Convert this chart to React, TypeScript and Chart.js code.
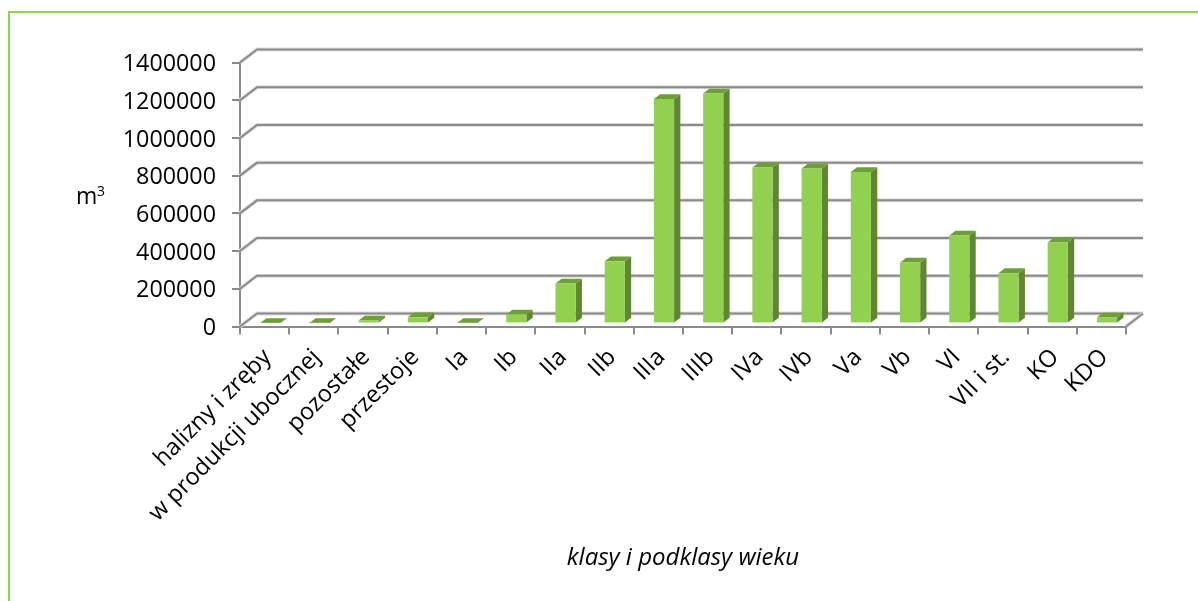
import React, { useEffect, useRef } from "react";
import { Chart, registerables } from "chart.js";

Chart.register(...registerables);

const categories = [
  "halizny i zręby", "w produkcji ubocznej", "pozostałe", "przestoje", "Ia", "Ib",
  "IIa", "IIb", "IIIa", "IIIb", "IVa", "IVb", "Va", "Vb", "VI", "VII i st.", "KO", "KDO",
];
const volumes = [
  3000, 2000, 16000, 33000, 2000, 48000, 212000, 330000, 1190000, 1220000,
  827000, 822000, 803000, 323000, 467000, 267000, 430000, 32000,
];
const yMax = 1400000;
const yStep = 200000;
const yTitleBase = "m";
const yTitleSup = "3";
const xTitle = "klasy i podklasy wieku";

const FONT = "'Open Sans', 'Noto Sans', sans-serif";
const GREY = "#8a8a8a";
const HALO = "#dcdcdc";
const FRONT = "#92d050";
const SIDE = "#5f8732";
const TOP = "#6d9e37";
const WALL_DX = 17;
const WALL_DY = -13;
const BAR_DX = 5.6;
const BAR_DY = -3;
const DEPTH_DX = 6.3;
const DEPTH_DY = -4.8;

function stroke(ctx: CanvasRenderingContext2D, pts: number[][]) {
  for (const [w, c] of [[3.8, HALO], [2, GREY]] as [number, string][]) {
    ctx.beginPath();
    ctx.moveTo(pts[0][0], pts[0][1]);
    for (let i = 1; i < pts.length; i++) ctx.lineTo(pts[i][0], pts[i][1]);
    ctx.lineWidth = w;
    ctx.strokeStyle = c;
    ctx.lineJoin = "round";
    ctx.stroke();
  }
}

const depthPlugin = {
  id: "depth",
  beforeDatasetsDraw(chart: any) {
    const { ctx, chartArea: a, scales } = chart;
    ctx.save();
    ctx.fillStyle = "#000";
    ctx.textAlign = "left";
    ctx.textBaseline = "alphabetic";
    ctx.font = `23px ${FONT}`;
    ctx.fillText(yTitleBase, 76, 204);
    ctx.font = `14px ${FONT}`;
    ctx.fillText(yTitleSup, 97, 196);
    for (const t of scales.y.ticks) {
      const y = scales.y.getPixelForValue(t.value);
      stroke(ctx, [[a.left, y], [a.left + WALL_DX, y + WALL_DY], [a.right + WALL_DX, y + WALL_DY]]);
    }
    const y0 = scales.y.getPixelForValue(0);
    stroke(ctx, [[a.right, y0], [a.right + WALL_DX, y0 + WALL_DY]]);
    ctx.restore();
    ctx.save();
    ctx.translate(BAR_DX, BAR_DY);
  },
  beforeDatasetDraw(chart: any) {
    const { ctx } = chart;
    for (const el of chart.getDatasetMeta(0).data) {
      const { x, y, base, width } = el.getProps(["x", "y", "base", "width"], true);
      const r = x + width / 2;
      const l = x - width / 2;
      ctx.fillStyle = SIDE;
      ctx.beginPath();
      ctx.moveTo(r, y);
      ctx.lineTo(r + DEPTH_DX, y + DEPTH_DY);
      ctx.lineTo(r + DEPTH_DX, base + DEPTH_DY);
      ctx.lineTo(r, base);
      ctx.closePath();
      ctx.fill();
      ctx.fillStyle = TOP;
      ctx.beginPath();
      ctx.moveTo(l, y);
      ctx.lineTo(l + DEPTH_DX, y + DEPTH_DY);
      ctx.lineTo(r + DEPTH_DX, y + DEPTH_DY);
      ctx.lineTo(r, y);
      ctx.closePath();
      ctx.fill();
    }
  },
  afterDatasetsDraw(chart: any) {
    chart.ctx.restore();
  },
};

export default function App() {
  const ref = useRef<HTMLCanvasElement>(null);
  useEffect(() => {
    const chart = new Chart(ref.current!, {
      type: "bar",
      data: {
        labels: categories,
        datasets: [{
          data: volumes,
          backgroundColor: FRONT,
          borderWidth: 0,
          categoryPercentage: 1,
          barPercentage: 0.41,
          clip: false,
        } as any],
      },
      plugins: [depthPlugin],
      options: {
        animation: false,
        responsive: false,
        layout: { padding: { left: 0, top: 62.5, right: 72, bottom: 0 } },
        plugins: { legend: { display: false }, tooltip: { enabled: false } },
        scales: {
          x: {
            grid: { offset: true, drawOnChartArea: false, color: GREY, lineWidth: 2, tickLength: 8 },
            border: { color: GREY, width: 2 },
            ticks: {
              autoSkip: false, maxRotation: 45, minRotation: 45, padding: 9, labelOffset: 3,
              color: "#000", font: { family: FONT, size: 23.5 },
            },
            title: {
              display: true, text: xTitle, color: "#000", padding: { top: 0, bottom: 28 },
              font: { family: FONT, size: 24, style: "italic" },
            },
            afterFit(s: any) { s.height = 274.5; },
          },
          y: {
            min: 0, max: yMax,
            grid: { drawOnChartArea: false, color: GREY, lineWidth: 2, tickLength: 8 },
            border: { color: GREY, width: 2 },
            ticks: {
              stepSize: yStep, padding: 16, color: "#000", labelOffset: 2,
              font: { family: FONT, size: 23.3 },
              callback: (v: any) => String(v),
            },
            afterFit(s: any) { s.width = 240; },
          },
        },
      },
    } as any);
    return () => chart.destroy();
  }, []);
  return (
    <div style={{ position: "absolute", left: 0, top: 0, width: 1198, height: 601, overflow: "hidden", background: "#fff" }}>
      <canvas ref={ref} width={1198} height={601} style={{ position: "absolute", left: 0, top: 0 }} />
      <div style={{ position: "absolute", left: 8, top: 11, width: 1190, height: 590, boxSizing: "border-box", borderLeft: "2px solid #92d050", borderTop: "2px solid #92d050" }} />
    </div>
  );
}
